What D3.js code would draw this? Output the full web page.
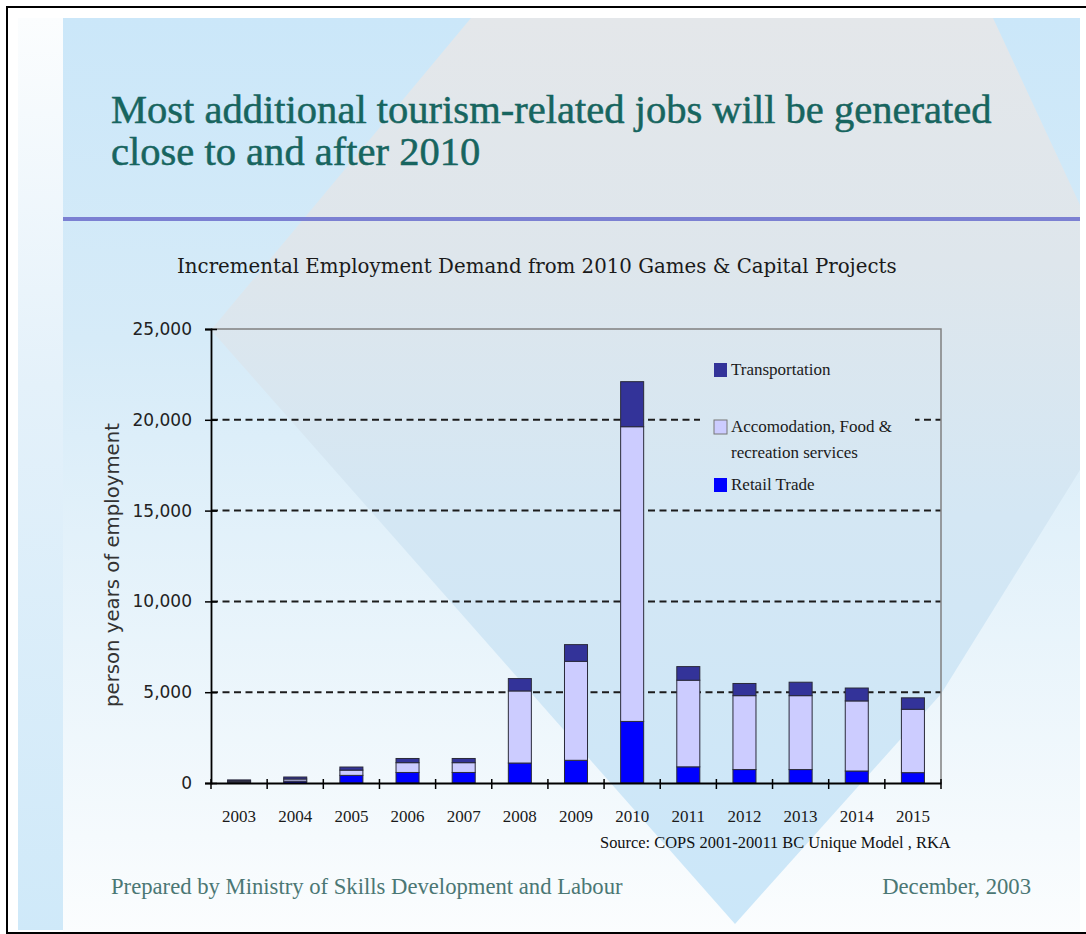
<!DOCTYPE html>
<html>
<head>
<meta charset="utf-8">
<script src="https://cdn.jsdelivr.net/npm/d3@7"></script>
<style>
  body { margin: 0; background: #fff; }
  svg { display: block; }
</style>
</head>
<body>
<div id="vis"></div>
<script>
// values (person years of employment)
const YEARS = ["2003","2004","2005","2006","2007","2008","2009","2010","2011","2012","2013","2014","2015"];
const RETAIL = [50, 100, 420, 580, 580, 1100, 1250, 3390, 890, 740, 740, 660, 570];
const ACCOMMODATION = [60, 120, 290, 540, 540, 3970, 5450, 16230, 4770, 4070, 4070, 3860, 3490];
const TRANSPORTATION = [60, 110, 170, 230, 230, 680, 920, 2480, 750, 670, 740, 710, 630];
const Y_TICKS = [0, 5000, 10000, 15000, 20000, 25000];

const KEYS = ["retail", "accom", "transport"];
const COLORS = { retail: "#0000ff", accom: "#ccccff", transport: "#333399" };

const WIDTH = 1086;
const HEIGHT = 934;
const PLOT = { left: 211, right: 941, top: 329, bottom: 783 };

const rows = YEARS.map((y, i) => ({
  year: y, retail: RETAIL[i], accom: ACCOMMODATION[i], transport: TRANSPORTATION[i]
}));

const svg = d3.select("#vis")
  .append("svg")
    .attr("width", WIDTH)
    .attr("height", HEIGHT);

// shrink/grow a text so it spans the given width
function fit(sel, w) {
  const fs = parseFloat(sel.attr("font-size"));
  const len = sel.node().getComputedTextLength();
  sel.attr("font-size", fs * w / len);
  return fs * w / len;
}

// ---------- slide background ----------
const defs = svg.append("defs");

function vGrad(id, y1, y2, stops) {
  const g = defs.append("linearGradient")
    .attr("id", id)
    .attr("gradientUnits", "userSpaceOnUse")
    .attr("x1", 0).attr("x2", 0).attr("y1", y1).attr("y2", y2);
  stops.forEach(s => g.append("stop").attr("offset", s[0]).attr("stop-color", s[1]));
}
vGrad("bgGrad", 18, 934, [[0, "#cbe7f9"], [0.35, "#d6ebf8"], [1, "#fbfdfe"]]);
vGrad("diaGrad", 18, 924, [[0, "#e4e7ea"], [0.27, "#dee6ec"], [0.55, "#d4e7f4"], [1, "#cbe7f9"]]);
vGrad("stripGrad", 18, 934, [[0, "#fbfdfe"], [0.4, "#e4f1fa"], [1, "#cfe9f9"]]);

svg.append("rect")
  .attr("x", 18).attr("y", 18).attr("width", 45).attr("height", 912)
  .attr("fill", "url(#stripGrad)");

svg.append("rect")
  .attr("x", 63).attr("y", 18).attr("width", 1017).attr("height", 916)
  .attr("fill", "url(#bgGrad)");

svg.append("polygon")
  .attr("points", [[471, 18], [993, 18], [1080, 205], [1080, 470], [941, 694], [735, 924], [211, 330]].join(" "))
  .attr("fill", "url(#diaGrad)");

svg.append("line")
  .attr("x1", 63).attr("x2", 1080).attr("y1", 219).attr("y2", 219)
  .attr("stroke", "#7b80d2").attr("stroke-width", 4);

svg.append("rect")
  .attr("x", 7).attr("y", 7).attr("width", 1100).attr("height", 926)
  .attr("fill", "none").attr("stroke", "#000").attr("stroke-width", 2);

// ---------- slide title ----------
const t1 = svg.append("text")
  .attr("x", 111).attr("y", 123)
  .attr("font-family", "Liberation Serif").attr("font-size", 34)
  .attr("fill", "#17655f").attr("stroke", "#17655f").attr("stroke-width", 0.5)
  .text("Most additional tourism-related jobs will be generated");
const titleSize = fit(t1, 881);
svg.append("text")
  .attr("x", 111).attr("y", 165)
  .attr("font-family", "Liberation Serif").attr("font-size", titleSize)
  .attr("fill", "#17655f").attr("stroke", "#17655f").attr("stroke-width", 0.5)
  .text("close to and after 2010");

const ct = svg.append("text")
  .attr("x", 177).attr("y", 273)
  .attr("font-family", "DejaVu Serif").attr("font-size", 18)
  .attr("fill", "#1a1a1a")
  .text("Incremental Employment Demand from 2010 Games & Capital Projects");
fit(ct, 720);

// ---------- scales ----------
const x = d3.scaleBand(YEARS, [PLOT.left, PLOT.right])
  .paddingInner(0.59)
  .paddingOuter(0.295);

const y = d3.scaleLinear([0, 25000], [PLOT.bottom, PLOT.top]);

// gridlines
svg.append("g")
  .selectAll("line")
  .data(Y_TICKS.filter(d => d > 0 && d < 25000))
  .join("line")
    .attr("x1", PLOT.left).attr("x2", PLOT.right)
    .attr("y1", d => y(d)).attr("y2", d => y(d))
    .attr("stroke", "#1c1c1c")
    .attr("stroke-width", 2)
    .attr("stroke-dasharray", "7,4.5");

// plot frame top/right
svg.append("path")
  .attr("d", `M${PLOT.left},${PLOT.top}H${PLOT.right}V${PLOT.bottom}`)
  .attr("fill", "none")
  .attr("stroke", "#808080")
  .attr("stroke-width", 1.5);

// ---------- legend (its box hides the grid behind it) ----------
const legend = svg.append("g");
legend.append("rect")
  .attr("x", 700).attr("y", 345).attr("width", 215).attr("height", 160)
  .attr("fill", "url(#diaGrad)");

const LEGEND_ITEMS = [
  { key: "transport", lines: ["Transportation"], y: 363 },
  { key: "accom", lines: ["Accomodation, Food &", "recreation services"], y: 420 },
  { key: "retail", lines: ["Retail Trade"], y: 478 }
];

legend.selectAll("rect.sw")
  .data(LEGEND_ITEMS)
  .join("rect")
    .attr("class", "sw")
    .attr("x", 714).attr("y", d => d.y)
    .attr("width", 13).attr("height", 14)
    .attr("fill", d => COLORS[d.key])
    .attr("stroke", d => d.key === "accom" ? "#777" : "none")
    .attr("stroke-width", 1);

const legendText = legend.selectAll("text")
  .data(LEGEND_ITEMS)
  .join("text")
    .attr("x", 731).attr("y", d => d.y + 12)
    .attr("font-family", "Liberation Serif").attr("font-size", 17)
    .attr("fill", "#1a1a1a");
legendText.selectAll("tspan")
  .data(d => d.lines)
  .join("tspan")
    .attr("x", 731)
    .attr("dy", (d, i) => i === 0 ? 0 : 26)
    .text(d => d);

// ---------- bars ----------
const stacked = d3.stack().keys(KEYS)(rows);

svg.append("g")
  .selectAll("g")
  .data(stacked)
  .join("g")
    .attr("fill", d => COLORS[d.key])
  .selectAll("rect")
  .data(d => d)
  .join("rect")
    .attr("x", d => x(d.data.year))
    .attr("y", d => y(d[1]))
    .attr("width", x.bandwidth())
    .attr("height", d => y(d[0]) - y(d[1]))
    .attr("stroke", "#2a2a3a")
    .attr("stroke-width", 1);

// ---------- axes ----------
const yAxis = d3.axisLeft(y)
  .tickValues(Y_TICKS)
  .tickFormat(d3.format(","))
  .tickSize(6)
  .tickPadding(13);

const gy = svg.append("g")
  .attr("transform", `translate(${PLOT.left},0)`)
  .call(yAxis);
gy.select(".domain").attr("stroke", "#000").attr("stroke-width", 1.8);
gy.selectAll(".tick line").attr("x1", 6).attr("stroke", "#000").attr("stroke-width", 1.5);
gy.selectAll(".tick text")
  .attr("font-family", "DejaVu Sans")
  .attr("font-size", 17)
  .attr("fill", "#222");

const xAxis = d3.axisBottom(x).tickSize(0).tickPadding(27);
const gx = svg.append("g")
  .attr("transform", `translate(0,${PLOT.bottom})`)
  .call(xAxis);
gx.select(".domain").attr("stroke", "#000").attr("stroke-width", 2);
gx.selectAll(".tick text")
  .attr("font-family", "Liberation Serif")
  .attr("font-size", 17)
  .attr("fill", "#1a1a1a");

// x ticks sit on the category boundaries
const gap = (x.step() - x.bandwidth()) / 2;
const bounds = YEARS.map(d => x(d) - gap).concat([x(YEARS[YEARS.length - 1]) + x.bandwidth() + gap]);
gx.append("g")
  .selectAll("line")
  .data(bounds)
  .join("line")
    .attr("x1", d => d).attr("x2", d => d)
    .attr("y1", -4).attr("y2", 6)
    .attr("stroke", "#000")
    .attr("stroke-width", 1.5);

svg.append("text")
  .attr("transform", "translate(119,565) rotate(-90)")
  .attr("text-anchor", "middle")
  .attr("font-family", "DejaVu Sans")
  .attr("font-size", 17)
  .attr("fill", "#333")
  .text("person years of employment")
  .call(s => fit(s, 284));

const src = svg.append("text")
  .attr("x", 600).attr("y", 848)
  .attr("font-family", "Liberation Serif").attr("font-size", 15)
  .attr("fill", "#111")
  .text("Source: COPS 2001-20011 BC Unique Model , RKA");
fit(src, 351);

// ---------- footer ----------
const f1 = svg.append("text")
  .attr("x", 111).attr("y", 894)
  .attr("font-family", "Liberation Serif").attr("font-size", 20)
  .attr("fill", "#4b7774")
  .text("Prepared by Ministry of Skills Development and Labour");
const footSize = fit(f1, 512);
svg.append("text")
  .attr("x", 1031).attr("y", 894)
  .attr("text-anchor", "end")
  .attr("font-family", "Liberation Serif").attr("font-size", footSize)
  .attr("fill", "#4b7774")
  .text("December, 2003");
</script>
</body>
</html>
